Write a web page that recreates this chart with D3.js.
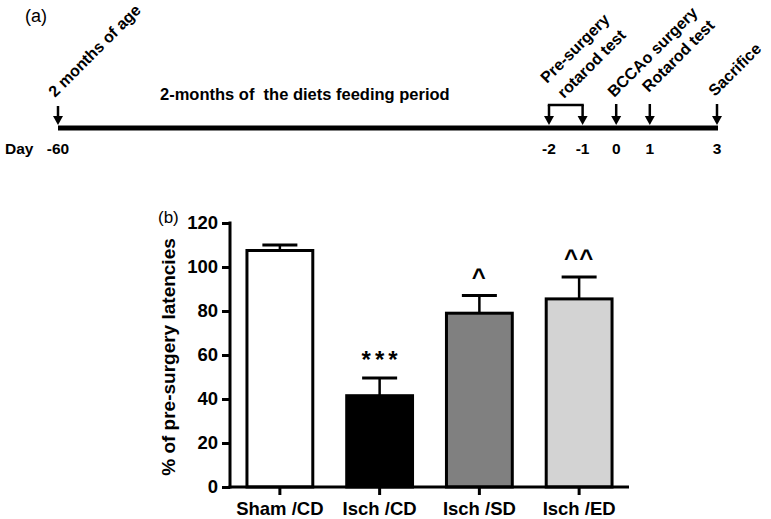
<!DOCTYPE html>
<html>
<head>
<meta charset="utf-8">
<script src="https://cdn.jsdelivr.net/npm/d3@7"></script>
<style>
  html, body { margin: 0; padding: 0; background: #fff; }
  svg { display: block; font-family: "Liberation Sans", Arial, sans-serif; }
  text { white-space: pre; }
</style>
</head>
<body>
<svg id="chart" width="771" height="519"></svg>
<script>
// ---------- Data ----------
// Panel (a): timeline
const timelineDays = [-60, -2, -1, 0, 1, 3];
const timelineDayLabels = ["-60", "-2", "-1", "0", "1", "3"];
const eventDays = [-60, 0, 1, 3];
const eventLabels = ["2 months of age", "BCCAo surgery", "Rotarod test", "Sacrifice"];
const bracketDays = [-2, -1];
const bracketLabelLines = ["Pre-surgery", "rotarod test"];
const periodLabel = "2-months of  the diets feeding period";

// Panel (b): bar chart
const categories = ["Sham /CD", "Isch /CD", "Isch /SD", "Isch /ED"];
const values = [107.5, 41.5, 79, 85.5];
const errors = [2.5, 8, 8, 10];
const significance = ["", "***", "^", "^^"];
const fills = ["#ffffff", "#000000", "#808080", "#d3d3d3"];
const yTicks = [0, 20, 40, 60, 80, 100, 120];

const svg = d3.select("#chart");

// ---------- Panel (a) ----------
const gA = svg.append("g");
const tx = d3.scaleLinear().domain([-60, -2, 3]).range([58, 549, 717]);
const lineY = 128;

gA.append("text").attr("x", 25).attr("y", 22).attr("font-size", 18).text("(a)");

gA.append("line")
  .attr("x1", tx(-60)).attr("x2", tx(3) + 1)
  .attr("y1", lineY).attr("y2", lineY)
  .attr("stroke", "#000").attr("stroke-width", 5);

function arrow(x, yTop) {
  gA.append("line").attr("x1", x).attr("x2", x).attr("y1", yTop).attr("y2", lineY - 10)
    .attr("stroke", "#000").attr("stroke-width", 2.5);
  gA.append("path")
    .attr("d", `M${x - 5},${lineY - 12} L${x + 5},${lineY - 12} L${x},${lineY - 3} Z`)
    .attr("fill", "#000");
}
eventDays.forEach(d => arrow(tx(d), d === -60 ? 106 : 104));
bracketDays.forEach(d => arrow(tx(d), 105));
gA.append("line")
  .attr("x1", tx(bracketDays[0]) - 1.2).attr("x2", tx(bracketDays[1]) + 1.2)
  .attr("y1", 105).attr("y2", 105)
  .attr("stroke", "#000").attr("stroke-width", 2.5);

// day labels
gA.append("text").attr("x", 5).attr("y", 154).attr("font-size", 15.5).attr("font-weight", "bold").text("Day");
timelineDays.forEach((d, i) => {
  gA.append("text").attr("x", tx(d)).attr("y", 154)
    .attr("text-anchor", "middle").attr("font-size", 15.5).attr("font-weight", "bold")
    .text(timelineDayLabels[i]);
});

// period label
gA.append("text").attr("x", 160).attr("y", 100).attr("font-size", 16.5).attr("font-weight", "bold")
  .text(periodLabel);

// rotated event labels
const eventOffsets = [[-3, 98], [-2, 98], [-1, 93], [-2, 97]];
eventDays.forEach((d, i) => {
  const x = tx(d) + eventOffsets[i][0], y = eventOffsets[i][1];
  gA.append("text")
    .attr("transform", `translate(${x},${y}) rotate(-45)`)
    .attr("font-size", 16).attr("font-weight", "bold")
    .text(eventLabels[i]);
});
// bracket label (two lines)
const bx = tx(bracketDays[0]);
gA.append("text")
  .attr("transform", `translate(${bx - 2},${84}) rotate(-45)`)
  .attr("font-size", 16).attr("font-weight", "bold").text(bracketLabelLines[0]);
gA.append("text")
  .attr("transform", `translate(${bx + 15},${99}) rotate(-45)`)
  .attr("font-size", 16).attr("font-weight", "bold").text(bracketLabelLines[1]);

// ---------- Panel (b) ----------
const gB = svg.append("g");
const y = d3.scaleLinear().domain([0, 120]).range([487, 223]);
const x = d3.scaleBand().domain(categories).range([230, 629]).paddingInner(0.34).paddingOuter(0.17);

gB.append("text").attr("x", 158).attr("y", 223).attr("font-size", 17).text("(b)");

// bars
gB.selectAll("rect.bar").data(categories).join("rect")
  .attr("class", "bar")
  .attr("x", d => x(d))
  .attr("y", (d, i) => y(values[i]))
  .attr("width", x.bandwidth())
  .attr("height", (d, i) => y(0) - y(values[i]))
  .attr("fill", (d, i) => fills[i])
  .attr("stroke", "#000").attr("stroke-width", 3);

// error bars
const capW = 35;
categories.forEach((c, i) => {
  const cx = x(c) + x.bandwidth() / 2;
  gB.append("line").attr("x1", cx).attr("x2", cx)
    .attr("y1", y(values[i])).attr("y2", y(values[i] + errors[i]))
    .attr("stroke", "#000").attr("stroke-width", 2.5);
  gB.append("line").attr("x1", cx - capW / 2).attr("x2", cx + capW / 2)
    .attr("y1", y(values[i] + errors[i])).attr("y2", y(values[i] + errors[i]))
    .attr("stroke", "#000").attr("stroke-width", 3);
  if (significance[i]) {
    const isStar = significance[i].includes("*");
    gB.append("text")
      .attr("x", cx + (isStar ? 2 : 0)).attr("y", y(values[i] + errors[i]) - (isStar ? 10 : 11))
      .attr("text-anchor", "middle")
      .attr("font-size", 24).attr("font-weight", "bold")
      .attr("letter-spacing", isStar ? 4 : 1)
      .text(significance[i]);
  }
});

// y axis
const yAxis = d3.axisLeft(y).tickValues(yTicks).tickSize(8).tickSizeOuter(0).tickPadding(4);
const gy = gB.append("g").attr("transform", "translate(230,0)").call(yAxis);
gy.select(".domain").attr("stroke-width", 3).attr("d", `M0,${y(0) + 1.5}V${y(120) - 1.5}`);
gy.selectAll(".tick line").attr("stroke-width", 3);
gy.selectAll(".tick text").attr("font-size", 18.5).attr("font-weight", "bold")
  .attr("font-family", "Liberation Sans, Arial, sans-serif").attr("fill", "#000");

// x axis
const xAxis = d3.axisBottom(x).tickSize(8).tickSizeOuter(0).tickPadding(7);
const gx = gB.append("g").attr("transform", `translate(0,${y(0)})`).call(xAxis);
gx.select(".domain").attr("stroke-width", 3).attr("d", "M228.5,0H629");
gx.selectAll(".tick line").attr("stroke-width", 3);
gx.selectAll(".tick text").attr("font-size", 18.5).attr("font-weight", "bold")
  .attr("font-family", "Liberation Sans, Arial, sans-serif").attr("fill", "#000");

// y label
gB.append("text")
  .attr("transform", "translate(175,357) rotate(-90)")
  .attr("text-anchor", "middle").attr("font-size", 19).attr("font-weight", "bold")
  .text("% of pre-surgery latencies");
</script>
</body>
</html>
